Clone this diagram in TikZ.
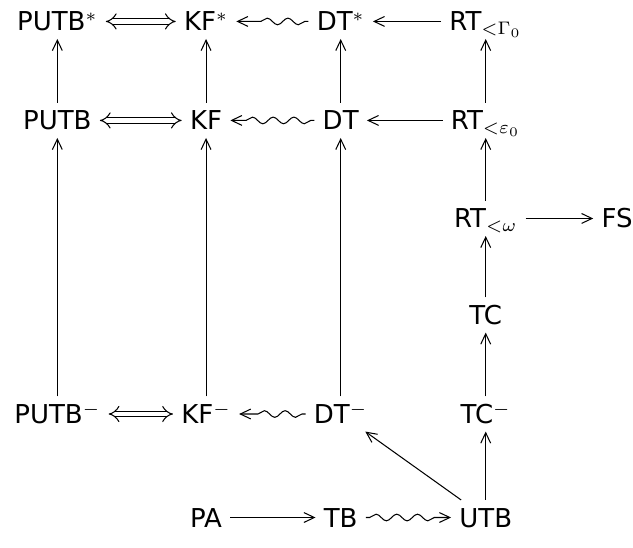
\documentclass[tikz,border=0pt]{standalone}
\usepackage{fontspec}
\setmainfont{DejaVu Sans}
\usetikzlibrary{arrows.meta,decorations.pathmorphing}
\tikzset{
  obj/.style={inner xsep=3pt, inner ysep=0.6pt, text height=9.6pt, text depth=2.3pt},
  imp/.style={double, double distance=1.8pt, {Implies[scale=1.8]}-{Implies[scale=1.8]}},
  sq/.style={->, decorate, decoration={snake, amplitude=.45mm, segment length=2.8mm, pre length=.5mm, post length=2mm}}
}
\begin{document}
\begin{tikzpicture}[>={Straight Barb[length=4pt, width=3.8pt]}, every node/.style={obj}]
        \useasboundingbox (0,0) rectangle (8.556,7.407);

        \node (putbs) at (0.775,7.117) {PUTB$^*$};
        \node (kfs) at (2.785,7.117) {KF$^*$};
        \node (dts) at (4.605,7.117) {DT$^*$};
        \node (rtg) at (6.565,7.117) {RT$_{<\Gamma_0}$};

        \node (putb) at (0.775,5.779) {PUTB};
        \node (kf) at (2.785,5.779) {KF};
        \node (dt) at (4.605,5.779) {DT};
        \node (rte) at (6.565,5.779) {RT$_{<\varepsilon_0}$};

        \node (rtw) at (6.565,4.454) {RT$_{<\omega}$};
        \node (fs) at (8.34,4.454) {FS};
        \node (tc) at (6.565,3.149) {TC};

        \node (putbm) at (0.775,1.811) {PUTB$^-$};
        \node (kfm) at (2.785,1.811) {KF$^-$};
        \node (dtm) at (4.605,1.811) {DT$^-$};
        \node (tcm) at (6.565,1.811) {TC$^-$};

        \node (pa) at (2.785,0.412) {PA};
        \node (tb) at (4.605,0.412) {TB};
        \node (utb) at (6.565,0.412) {UTB};

        \draw[imp] (putbs) -- (kfs);
        \draw[sq] (dts) -- (kfs);
        \draw[->] (rtg) -- (dts);

        \draw[imp] (putb) -- (kf);
        \draw[sq] (dt) -- (kf);
        \draw[->] (rte) -- (dt);

        \draw[->] (putb) -- (putbs);
        \draw[->] (kf) -- (kfs);
        \draw[->] (dt) -- (dts);
        \draw[->] (rte) -- (rtg);

        \draw[->] (rtw) -- (rte);
        \draw[->] (rtw) -- (fs);
        \draw[->] (tc) -- (rtw);
        \draw[->] (tcm) -- (tc);

        \draw[->] (putbm) -- (putb);
        \draw[->] (kfm) -- (kf);
        \draw[->] (dtm) -- (dt);

        \draw[imp] (putbm) -- (kfm);
        \draw[sq] (dtm) -- (kfm);

        \draw[->] (utb) -- (dtm);
        \draw[->] (utb) -- (tcm);
        \draw[->] (pa) -- (tb);
        \draw[sq] (tb) -- (utb);
    \end{tikzpicture}
\end{document}
